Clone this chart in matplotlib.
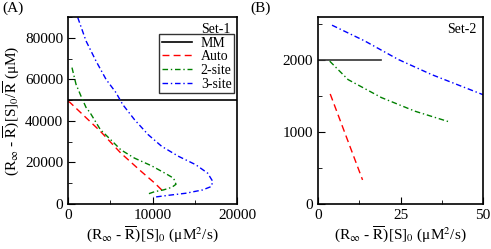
import matplotlib.pyplot as plt
from matplotlib.ticker import MultipleLocator

plt.rcParams['font.family'] = ['Liberation Serif', 'DejaVu Serif']
plt.rcParams['mathtext.fontset'] = 'stix'
plt.rcParams['font.size'] = 11

# Set-1 (panel A)
mm_a_x = [0, 20000]
mm_a_y = [50000, 50000]
auto_a_x = [0, 200, 3830, 6250, 8670, 10280, 11090, 11290]
auto_a_y = [49340, 49000, 35000, 24500, 15650, 10000, 6770, 5600]
two_a_x = [470, 950, 1540, 2130, 2620, 3830, 5040, 6250, 7860, 9880, 11490, 12500,
           12780, 12300, 11290, 10280, 9480]
two_a_y = [65650, 57600, 51900, 46500, 43900, 35800, 31000, 26100, 22100, 18400, 14800, 12400,
           9500, 8060, 6770, 5970, 4840]
three_a_x = [1150, 2130, 3310, 4500, 5680, 6470, 7860, 9480, 11090, 13100, 15120, 16530,
             17140, 16940, 15930, 13910, 11900, 10080]
three_a_y = [89800, 78500, 68840, 60000, 53600, 47900, 40650, 33400, 27740, 22900, 18900, 14840,
             10800, 8390, 6770, 5160, 4190, 3230]

# Set-2 (panel B)
mm_b_x = [0, 19.2]
mm_b_y = [2000, 2000]
auto_b_x = [3.7, 13.5]
auto_b_y = [1530, 335]
two_b_x = [3.55, 9.1, 19.2, 29.4, 39.5]
two_b_y = [1986, 1730, 1480, 1290, 1146]
three_b_x = [4.25, 14.2, 24.3, 34.4, 50]
three_b_y = [2486, 2266, 2010, 1800, 1520]

fig = plt.figure(figsize=(4.91, 2.49), dpi=100)
ax1 = fig.add_axes([68/491, 1-204/249, 169/491, 187/249])
ax2 = fig.add_axes([318/491, 1-204/249, 165/491, 187/249])

dashdot = (0, (4, 2, 1, 2))
ax1.plot(mm_a_x, mm_a_y, color='black', lw=1.2, label='MM')
ax1.plot(auto_a_x, auto_a_y, color='red', lw=1, ls=(0, (5, 3)), label='Auto')
ax1.plot(two_a_x, two_a_y, color='green', lw=1, ls=dashdot, label='2-site')
ax1.plot(three_a_x, three_a_y, color='blue', lw=1, ls=dashdot, label='3-site')
ax1.set_xlim(0, 20000)
ax1.set_ylim(0, 90000)
ax1.set_xticks([0, 10000, 20000])
ax1.set_yticks([0, 20000, 40000, 60000, 80000])
ax1.xaxis.set_minor_locator(MultipleLocator(5000))
ax1.yaxis.set_minor_locator(MultipleLocator(10000))
ax1.set_xlabel(r'(R$_\infty$ - $\overline{\mathrm{R}}$)[S]$_0$ (μM$^2$/s)', labelpad=2)
ax1.set_ylabel(r'(R$_\infty$ - $\overline{\mathrm{R}}$)[S]$_0$/$\overline{\mathrm{R}}$ (μM)', labelpad=2)
ax1.text(0.96, 0.97, 'Set-1', transform=ax1.transAxes, ha='right', va='top', fontsize=10)
leg = ax1.legend(loc='upper right', bbox_to_anchor=(0.985, 0.91), fontsize=10,
                 frameon=True, fancybox=False, edgecolor='black', handlelength=2.2,
                 borderpad=0.2, labelspacing=0.05, handletextpad=0.6, borderaxespad=0)
leg.get_frame().set_linewidth(1)

ax2.plot(mm_b_x, mm_b_y, color='#333333', lw=1.2)
ax2.plot(auto_b_x, auto_b_y, color='red', lw=1, ls=(0, (5, 3)))
ax2.plot(two_b_x, two_b_y, color='green', lw=1, ls=dashdot)
ax2.plot(three_b_x, three_b_y, color='blue', lw=1, ls=dashdot)
ax2.set_xlim(0, 50)
ax2.set_ylim(0, 2600)
ax2.set_xticks([0, 25, 50])
ax2.set_yticks([0, 1000, 2000])
ax2.xaxis.set_minor_locator(MultipleLocator(12.5))
ax2.yaxis.set_minor_locator(MultipleLocator(500))
ax2.set_xlabel(r'(R$_\infty$ - $\overline{\mathrm{R}}$)[S]$_0$ (μM$^2$/s)', labelpad=2)
ax2.text(0.96, 0.97, 'Set-2', transform=ax2.transAxes, ha='right', va='top', fontsize=10)

for ax in (ax1, ax2):
    ax.tick_params(which='both', direction='in', top=False, right=False, labelsize=11)
    ax.tick_params(which='major', length=5)
    ax.tick_params(which='minor', length=3)
    for s in ax.spines.values():
        s.set_linewidth(1.2)

fig.text(2/491, 1-2/249, '(A)', ha='left', va='top', fontsize=11)
fig.text(250/491, 1-2/249, '(B)', ha='left', va='top', fontsize=11)

fig.savefig('out.png', dpi=100)
